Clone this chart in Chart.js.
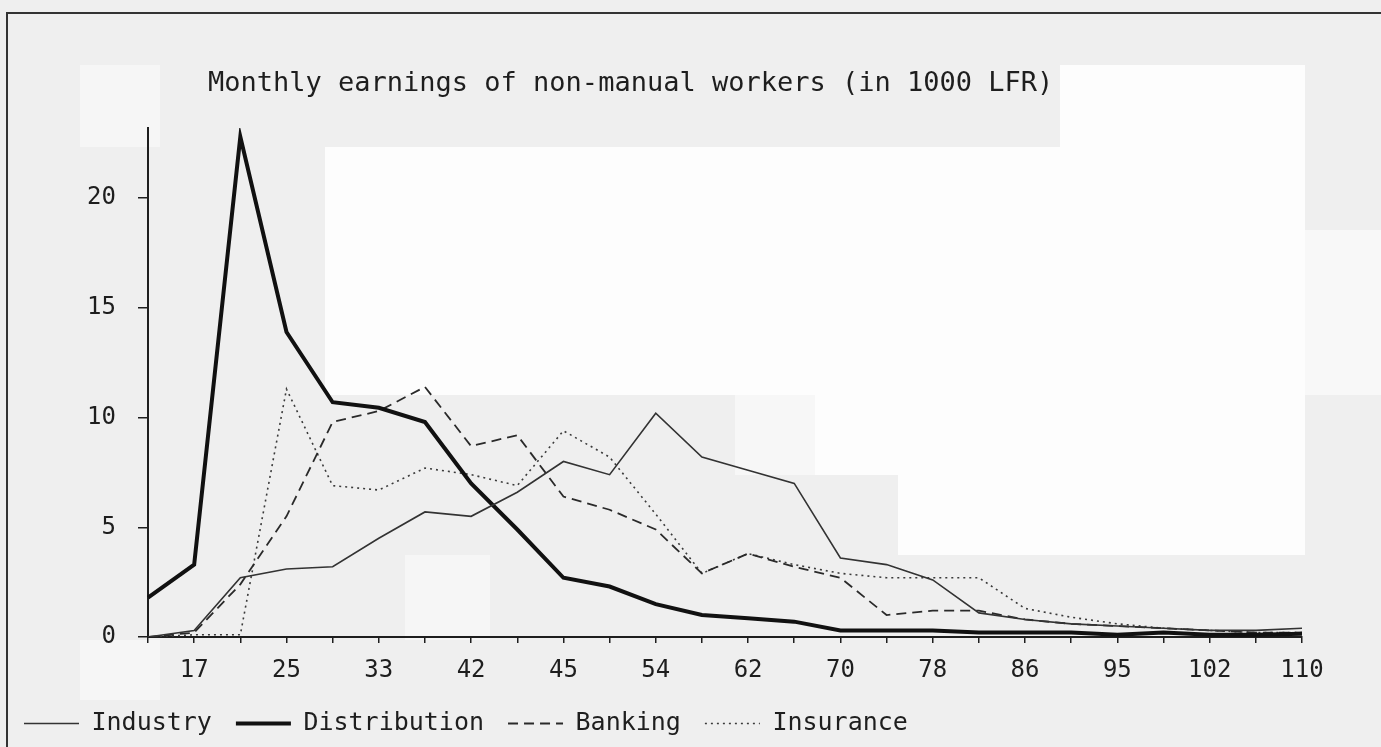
<!DOCTYPE html>
<html>
<head>
<meta charset="utf-8">
<title>Monthly earnings of non-manual workers</title>
<script src="https://cdn.jsdelivr.net/npm/chart.js@4/dist/chart.umd.min.js"></script>
<style>
  html, body {
    margin: 0;
    padding: 0;
    width: 1381px;
    height: 747px;
    overflow: hidden;
    background: #efefef;
  }
  .frame {
    position: absolute;
    left: 6px;
    top: 12px;
    right: -4px;
    bottom: -4px;
    border-top: 2px solid #333;
    border-left: 2px solid #333;
  }
  .patch {
    position: absolute;
    background: #fdfdfd;
  }
  .chart-box {
    position: absolute;
    left: 0;
    top: 0;
    width: 1381px;
    height: 747px;
  }
</style>
</head>
<body>
<div class="frame"></div>
<!-- lighter blocks of the scanned original -->
<div class="patch" style="left:80px;top:65px;width:80px;height:82px;background:#f6f6f6"></div>
<div class="patch" style="left:1060px;top:65px;width:245px;height:82px"></div>
<div class="patch" style="left:325px;top:147px;width:980px;height:248px"></div>
<div class="patch" style="left:735px;top:395px;width:80px;height:80px;background:#f7f7f7"></div>
<div class="patch" style="left:815px;top:395px;width:490px;height:80px"></div>
<div class="patch" style="left:898px;top:475px;width:407px;height:80px"></div>
<div class="patch" style="left:1305px;top:230px;width:76px;height:165px;background:#f8f8f8"></div>
<div class="patch" style="left:405px;top:555px;width:85px;height:85px;background:#f6f6f6"></div>
<div class="patch" style="left:80px;top:640px;width:80px;height:60px;background:#f6f6f6"></div>
<div class="chart-box"><canvas id="earningsChart"></canvas></div>

<script>
const CHART_TITLE = 'Monthly earnings of non-manual workers (in 1000 LFR)';

// one point per tick on the earnings axis; only every other tick is labelled
const EARNINGS_LABELS = ['', '17', '', '25', '', '33', '', '42', '', '45', '', '54', '', '62',
  '', '70', '', '78', '', '86', '', '95', '', '102', '', '110'];

const INDUSTRY = [0, 0.3, 2.7, 3.1, 3.2, 4.5, 5.7, 5.5, 6.6, 8.0, 7.4, 10.2, 8.2, 7.6,
  7.0, 3.6, 3.3, 2.6, 1.1, 0.8, 0.6, 0.5, 0.4, 0.3, 0.3, 0.4];
const DISTRIBUTION = [1.8, 3.3, 22.8, 13.9, 10.7, 10.45, 9.8, 7.0, 4.9, 2.7, 2.3, 1.5, 1.0, 0.85,
  0.7, 0.3, 0.3, 0.3, 0.2, 0.2, 0.2, 0.1, 0.2, 0.1, 0.1, 0.15];
const BANKING = [0, 0.2, 2.4, 5.5, 9.8, 10.3, 11.4, 8.7, 9.2, 6.4, 5.8, 4.9, 2.9, 3.8,
  3.2, 2.7, 1.0, 1.2, 1.2, 0.8, 0.6, 0.5, 0.4, 0.3, 0.2, 0.2];
const INSURANCE = [0, 0.1, 0.1, 11.3, 6.9, 6.7, 7.7, 7.4, 6.9, 9.4, 8.2, 5.6, 2.9, 3.8,
  3.3, 2.9, 2.7, 2.7, 2.7, 1.3, 0.9, 0.6, 0.4, 0.3, 0.2, 0.2];

const Y_AXIS = {
  min: 0,
  max: 23.2,
  step: 5
};

const FONT_FAMILY = "'DejaVu Sans Mono', 'Liberation Mono', monospace";
const INK = '#1e1e1e';

const DATASET_DEFINITIONS = [
  { label: 'Industry', data: INDUSTRY, borderColor: '#333', borderWidth: 1.6, borderDash: [] },
  { label: 'Distribution', data: DISTRIBUTION, borderColor: '#111', borderWidth: 4, borderDash: [] },
  { label: 'Banking', data: BANKING, borderColor: '#2a2a2a', borderWidth: 1.8, borderDash: [10, 6] },
  { label: 'Insurance', data: INSURANCE, borderColor: '#3a3a3a', borderWidth: 1.6, borderDash: [2, 4] }
];

function createDataset(definition) {
  return {
    ...definition,
    backgroundColor: definition.borderColor,
    fill: false,
    tension: 0,
    pointRadius: 0,
    pointHoverRadius: 0,
    pointStyle: 'line'
  };
}

// legend samples take the dash and width of the series line, not of its points
function generateLegendLabels(chart) {
  const items = Chart.defaults.plugins.legend.labels.generateLabels(chart);
  return items.map((item) => {
    const dataset = chart.data.datasets[item.datasetIndex];
    return {
      ...item,
      lineDash: dataset.borderDash,
      lineWidth: dataset.borderWidth,
      strokeStyle: dataset.borderColor
    };
  });
}

// title sits left of centre in the original, so it is drawn by hand
const titlePlugin = {
  id: 'leftTitle',
  afterDraw(chart) {
    const { ctx, chartArea } = chart;
    ctx.save();
    ctx.font = `27px ${FONT_FAMILY}`;
    ctx.fillStyle = INK;
    ctx.textAlign = 'left';
    ctx.textBaseline = 'middle';
    ctx.fillText(CHART_TITLE, chartArea.left + 60, 84);
    ctx.restore();
  }
};

function createChartOptions() {
  return {
    responsive: true,
    maintainAspectRatio: false,
    animation: false,
    layout: {
      padding: { top: 128, right: 79, bottom: 1, left: 0 }
    },
    scales: {
      x: {
        type: 'category',
        offset: false,
        afterFit: (scale) => { scale.height = 50; },
        border: { display: true, color: INK, width: 2 },
        grid: {
          drawOnChartArea: false,
          drawTicks: true,
          tickLength: 6,
          color: INK,
          lineWidth: 1.5
        },
        ticks: {
          autoSkip: false,
          maxRotation: 0,
          padding: 13,
          color: INK,
          font: { family: FONT_FAMILY, size: 24 }
        }
      },
      y: {
        type: 'linear',
        min: Y_AXIS.min,
        max: Y_AXIS.max,
        afterFit: (scale) => { scale.width = 148; },
        border: { display: true, color: INK, width: 2 },
        grid: {
          drawOnChartArea: false,
          drawTicks: true,
          tickLength: 10,
          color: INK,
          lineWidth: 1.5
        },
        ticks: {
          stepSize: Y_AXIS.step,
          includeBounds: false,
          padding: 22,
          color: INK,
          font: { family: FONT_FAMILY, size: 24 }
        }
      }
    },
    plugins: {
      title: { display: false },
      tooltip: { enabled: false },
      legend: {
        position: 'bottom',
        align: 'start',
        labels: {
          usePointStyle: true,
          pointStyleWidth: 55,
          padding: 24,
          color: INK,
          font: { family: FONT_FAMILY, size: 25 },
          generateLabels: generateLegendLabels
        }
      }
    }
  };
}

function createChart(canvasId) {
  const canvas = document.getElementById(canvasId);
  const context = canvas?.getContext('2d');

  if (!context) {
    throw new Error(`Chart canvas not found: ${canvasId}`);
  }

  return new Chart(context, {
    type: 'line',
    data: {
      labels: EARNINGS_LABELS,
      datasets: DATASET_DEFINITIONS.map(createDataset)
    },
    options: createChartOptions(),
    plugins: [titlePlugin]
  });
}

createChart('earningsChart');
</script>
</body>
</html>
